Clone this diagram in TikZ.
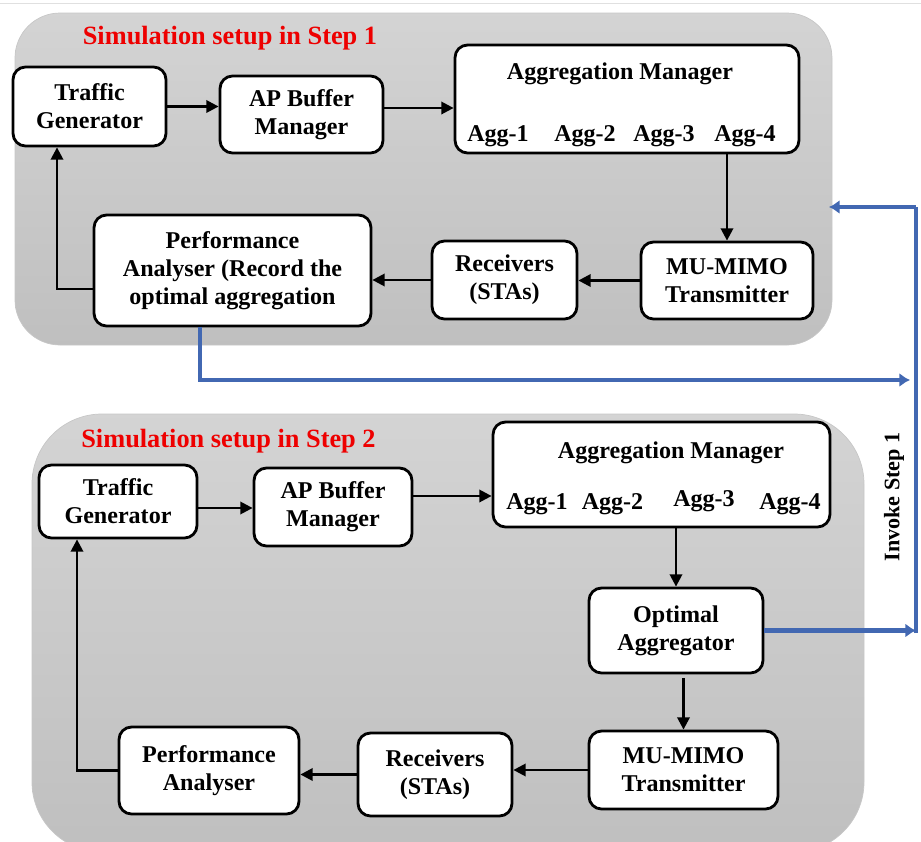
\documentclass[tikz,border=0pt]{standalone}
\usepackage{fontspec}
\setmainfont{Liberation Serif}
\usetikzlibrary{arrows.meta}
\definecolor{invblue}{RGB}{66,104,178}
\definecolor{steptitle}{RGB}{238,0,0}
\newcommand{\boxfont}{\bfseries\fontsize{13.7}{16}\selectfont}
\newcommand{\titlefont}{\bfseries\fontsize{15}{18}\selectfont}
\newcommand{\invfont}{\bfseries\fontsize{12.6}{15}\selectfont}

\begin{document}
\begin{tikzpicture}[x=0.02cm, y=-0.02cm,
        panel/.style = {draw=black!22, top color=black!17, bottom color=black!25, rounded corners=0.9cm},
        box/.style = {draw, fill=white, line width=1.6pt, rounded corners=0.25cm, align=center, inner sep=0pt},
        lbl/.style = {inner sep=0pt},
        title/.style = {text=steptitle, font=\titlefont},
        flow/.style = {-{Triangle[length=7pt,width=7pt]}, line width=1.4pt},
        invoke/.style = {draw=invblue, line width=2.8pt},
        every node/.append style = {font=\boxfont}
    ]
    \useasboundingbox (0,0) rectangle (921,842);
    \draw[black!12] (0,3) -- (921,3);
    % step 1
    \draw[panel] (15,13) rectangle (832,345);
    \node[title] (ttlA) at (230,38) {Simulation setup in Step 1};
    \node[box, minimum width=3.06cm, minimum height=1.58cm] (tgA) at (89.5,106.5) {Traffic\\Generator};
    \node[box, minimum width=3.26cm, minimum height=1.54cm] (apbA) at (301.5,114.5) {AP Buffer\\Manager};
    \node[box, minimum width=6.88cm, minimum height=2.16cm] (aggA) at (627,99) {};
    \node (amA) at (620,74) {Aggregation Manager};
    \foreach \i/\x in {1/498,2/585,3/664,4/745}
        \node[lbl] (agA\i) at (\x,136) {Agg-\i};
    \node[box, minimum width=3.44cm, minimum height=1.54cm] (mimoA) at (727,280.5) {MU-MIMO\\Transmitter};
    \node[box, minimum width=2.9cm, minimum height=1.56cm] (rxA) at (504.5,280) {Receivers\\(STAs)};
    \node[box, minimum width=5.54cm, minimum height=2.22cm] (paA) at (232.5,270.5) {Performance\\Analyser (Record the\\optimal aggregation};

    \draw[flow] (tgA.east) -- (tgA.east -| apbA.west);
    \draw[flow] ([yshift=0.13cm]apbA.east) -- ([yshift=0.13cm]apbA.east -| aggA.west);
    \draw[flow] (aggA.south -| mimoA.north) -- (mimoA.north);
    \draw[flow] (mimoA.west) -- (mimoA.west -| rxA.east);
    \draw[flow] (rxA.west) -- (rxA.west -| paA.east);
    \draw[flow] ([yshift=-0.37cm]paA.west) -| ([xshift=-0.65cm]tgA.south);

    % step 2
    \draw[panel, rounded corners=1.4cm] (32,414) rectangle (864,852);
    \node[title] (ttlB) at (228.5,441) {Simulation setup in Step 2};
    \node[box, minimum width=3.16cm, minimum height=1.46cm] (tgB) at (118,501.5) {Traffic\\Generator};
    \node[box, minimum width=3.16cm, minimum height=1.56cm] (apbB) at (333,507) {AP Buffer\\Manager};
    \node[box, minimum width=6.74cm, minimum height=2.1cm] (aggB) at (661.5,474.5) {};
    \node (amB) at (671,453) {Aggregation Manager};
    \foreach \i/\x/\y in {1/537/504,2/612.5/504,3/704/501,4/790/504}
        \node[lbl] (agB\i) at (\x,\y) {Agg-\i};
    \node[box, minimum width=3.48cm, minimum height=1.7cm] (optB) at (676,630.5) {Optimal\\Aggregator};
    \node[box, minimum width=3.78cm, minimum height=1.56cm] (mimoB) at (683.5,770) {MU-MIMO\\Transmitter};
    \node[box, minimum width=3.08cm, minimum height=1.66cm] (rxB) at (435,774.5) {Receivers\\(STAs)};
    \node[box, minimum width=3.6cm, minimum height=1.74cm] (paB) at (209,770.5) {Performance\\Analyser};

    \draw[flow] ([yshift=-0.13cm]tgB.east) -- ([yshift=-0.13cm]tgB.east -| apbB.west);
    \draw[flow] ([yshift=0.22cm]apbB.east) -- ([yshift=0.22cm]apbB.east -| aggB.west);
    \draw[flow] (aggB.south -| optB.north) -- (optB.north);
    \draw[flow, shorten <=0.08cm] (optB.south -| mimoB.north) -- (mimoB.north);
    \draw[flow] (mimoB.west) -- (mimoB.west -| rxB.east);
    \draw[flow] (rxB.west) -- (rxB.west -| paB.east);
    \draw[flow] (paB.west) -| ([xshift=-0.82cm]tgB.south);

    % invoke loop
    \coordinate (backA) at (910,380);
    \coordinate (jtTop) at (916,207);
    \coordinate (jtBot) at (916,633);
    \coordinate (backIn) at (829,207);
    \draw[invoke, -{Latex[length=6pt,width=8pt]}] ([xshift=-0.65cm]paA.south) |- (backA);
    \draw[invoke, -{Latex[length=6pt,width=8pt]}] (optB.east) -- (optB.east -| jtBot);
    \draw[invoke] (jtBot) -- (jtTop);
    \draw[invoke, -{Latex[length=6pt,width=8pt]}] (jtTop) -- (backIn);
    \node[rotate=90, font=\invfont] (inv) at (894,497) {Invoke Step 1};
\end{tikzpicture}
\end{document}
